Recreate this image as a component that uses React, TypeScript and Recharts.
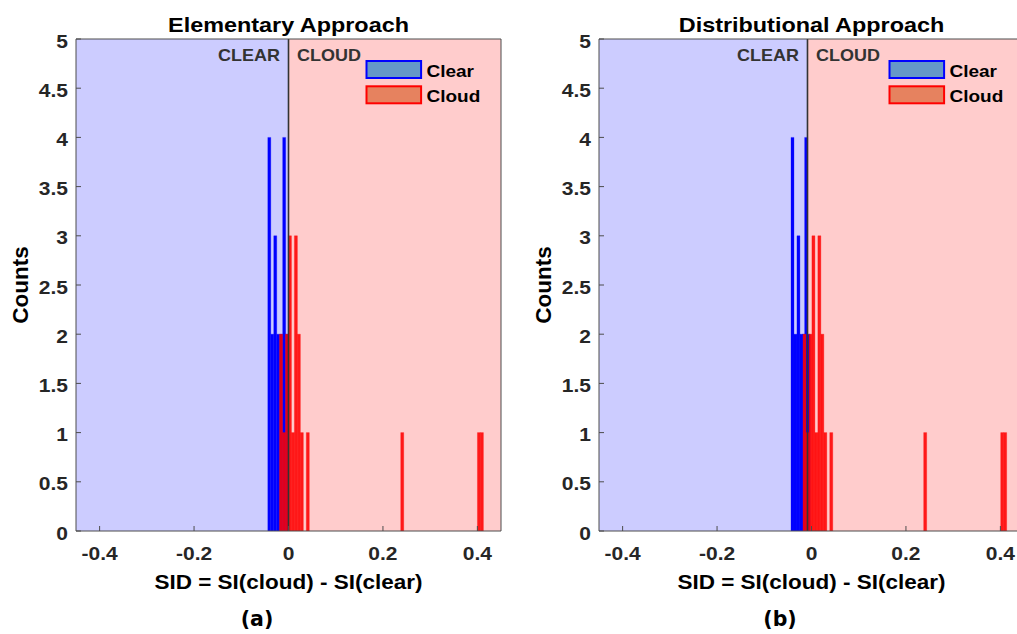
import React from 'react';
import { ComposedChart, XAxis, YAxis, ReferenceArea, ReferenceLine } from 'recharts';

// ---------- data ----------
const X_TICKS = [-0.4, -0.2, 0, 0.2, 0.4];
const X_TICK_LABELS = ['-0.4', '-0.2', '0', '0.2', '0.4'];
const Y_TICKS = [0, 0.5, 1, 1.5, 2, 2.5, 3, 3.5, 4, 4.5, 5];
const Y_TICK_LABELS = ['0', '0.5', '1', '1.5', '2', '2.5', '3', '3.5', '4', '4.5', '5'];
const X_DOMAIN = [-0.45, 0.45];
const Y_DOMAIN = [0, 5];
const BIN_WIDTH = 0.0063;

const SERIES_NAMES = ['Clear', 'Cloud'];
const REGION_LABELS = ['CLEAR', 'CLOUD'];
const TITLES = ['Elementary Approach', 'Distributional Approach'];
const CAPTIONS = ['(a)', '(b)'];
const X_LABEL = 'SID = SI(cloud) - SI(clear)';
const Y_LABEL = 'Counts';
const DIVIDERS = [0, -0.0085];

// Panel (a) – Elementary approach
const clearA_left = [-0.0438, -0.0375, -0.0312, -0.0249, -0.0186, -0.0123, -0.006];
const clearA_counts = [4, 2, 3, 2, 2, 4, 2];
const cloudA_left = [-0.019, -0.0127, -0.0064, -0.0001, 0.0062, 0.0125, 0.0188, 0.0251, 0.0377, 0.2377, 0.4001, 0.4064];
const cloudA_counts = [2, 1, 2, 3, 1, 3, 2, 1, 1, 1, 1, 1];

// Panel (b) – Distributional approach
const clearB_left = [-0.0434, -0.0371, -0.0308, -0.0245, -0.0195, -0.0145, -0.009];
const clearB_counts = [4, 2, 3, 2, 2, 4, 2];
const cloudB_left = [-0.018, -0.0117, -0.0054, 0.0009, 0.0072, 0.0135, 0.0198, 0.0261, 0.0387, 0.2376, 0.4007, 0.407];
const cloudB_counts = [2, 1, 2, 3, 1, 3, 2, 1, 1, 1, 1, 1];

// ---------- styles ----------
const SANS = '"Liberation Sans", Arial, Helvetica, sans-serif';
const CAP_FONT = '"DejaVu Sans", sans-serif';
const AX = '#4d4d4d';
const TXT = '#262626';
const SY = 0.9;
const CLEAR_BG = '#ccccff';
const CLOUD_BG = '#ffcccc';
const CLEAR_FILL = '#0000ff';
const CLOUD_FILL = '#ff0000';
const LEG_FILLS = ['#6598c8', '#e6825f'];
const LEG_EDGES = ['#0000ff', '#ff0000'];

const ST = ({ x, y, fs, anchor = 'middle', fill = TXT, family = SANS, rot = false, sy = SY, children }: any) => (
  <text
    transform={`translate(${x},${y})${rot ? ' rotate(-90)' : ''} scale(1,${sy})`}
    x={0}
    y={0}
    textAnchor={anchor}
    style={{ fontSize: fs, fontWeight: 'bold', fontFamily: family }}
    fill={fill}
  >
    {children}
  </text>
);

const BottomTick = (props: any) => {
  const { x, y, payload } = props;
  const i = X_TICKS.findIndex((t) => Math.abs(t - payload.value) < 1e-9);
  return (
    <g>
      <line x1={x} y1={y} x2={x} y2={y - 5} stroke={AX} strokeWidth={1} />
      <ST x={x} y={y + 29} fs={21}>{X_TICK_LABELS[i]}</ST>
    </g>
  );
};

const LeftTick = (props: any) => {
  const { x, y, payload } = props;
  const i = Y_TICKS.findIndex((t) => Math.abs(t - payload.value) < 1e-9);
  return (
    <g>
      <line x1={x} y1={y} x2={x + 5} y2={y} stroke={AX} strokeWidth={1} />
      <ST x={x - 8} y={y + 8.5} fs={21} anchor="end">{Y_TICK_LABELS[i]}</ST>
    </g>
  );
};

const toBins = (lefts: number[], counts: number[]) =>
  lefts.map((l, i) => ({ x1: l, x2: l + BIN_WIDTH, y: counts[i] }));

type PanelProps = {
  idx: number;
  clearLeft: number[];
  clearCounts: number[];
  cloudLeft: number[];
  cloudCounts: number[];
};

const Panel = ({ idx, clearLeft, clearCounts, cloudLeft, cloudCounts }: PanelProps) => {
  const divider = DIVIDERS[idx];
  const clearBins = toBins(clearLeft, clearCounts);
  const cloudBins = toBins(cloudLeft, cloudCounts);
  const rows = [...clearBins, ...cloudBins].map((b) => ({ x: (b.x1 + b.x2) / 2, y: b.y }));

  const clearLabel = (p: any) => {
    const vb = p.viewBox;
    return <ST x={vb.x + vb.width - 8.5} y={vb.y + 22} fs={18} anchor="end" fill="#333">{REGION_LABELS[0]}</ST>;
  };
  const cloudLabel = (p: any) => {
    const vb = p.viewBox;
    const px = vb.x + vb.width - 135.5;
    return (
      <g>
        <ST x={vb.x + 8.5} y={vb.y + 22} fs={18} anchor="start" fill="#333">{REGION_LABELS[1]}</ST>
        {SERIES_NAMES.map((name, i) => (
          <g key={name}>
            <rect x={px + 1} y={vb.y + 22 + i * 25.3} width={54.6} height={17} fill={LEG_FILLS[i]} stroke={LEG_EDGES[i]} strokeWidth={2} />
            <ST x={px + 61} y={vb.y + 38 + i * 25.3} fs={19} anchor="start" fill="#000">{name}</ST>
          </g>
        ))}
      </g>
    );
  };
  const xLabel = (p: any) => {
    const vb = p.viewBox;
    const cx = vb.x + vb.width / 2;
    return (
      <g>
        <ST x={cx} y={vb.y + 58} fs={22.5} fill="#000">{X_LABEL}</ST>
        <ST x={cx - 31.5} y={vb.y + 95} fs={20.5} fill="#000" family={CAP_FONT} sy={1}>{CAPTIONS[idx]}</ST>
      </g>
    );
  };
  const yLabel = (p: any) => {
    const vb = p.viewBox;
    return <ST x={vb.x + 28.3} y={vb.y + vb.height / 2} fs={22.5} rot sy={1} fill="#000">{Y_LABEL}</ST>;
  };
  const titleLabel = (p: any) => {
    const vb = p.viewBox;
    return <ST x={vb.x + vb.width / 2} y={vb.y - 7} fs={23.4} fill="#000">{TITLES[idx]}</ST>;
  };

  return (
    <ComposedChart width={520} height={634} data={rows} margin={{ top: 39, right: 19, bottom: 0, left: 0 }}>
      <XAxis
        dataKey="x"
        type="number"
        domain={X_DOMAIN}
        ticks={X_TICKS}
        interval={0}
        allowDataOverflow
        height={103}
        tickLine={false}
        tickSize={0}
        tickMargin={0}
        tick={BottomTick}
        axisLine={{ stroke: AX, strokeWidth: 1 }}
        label={xLabel}
      />
      <XAxis
        xAxisId="top"
        dataKey="x"
        orientation="top"
        mirror
        type="number"
        domain={X_DOMAIN}
        ticks={X_TICKS}
        interval={0}
        allowDataOverflow
        height={1}
        tick={false}
        tickSize={5}
        tickLine={{ stroke: AX }}
        axisLine={{ stroke: AX, strokeWidth: 1 }}
        label={titleLabel}
      />
      <YAxis
        dataKey="y"
        type="number"
        domain={Y_DOMAIN}
        ticks={Y_TICKS}
        interval={0}
        allowDataOverflow
        width={76}
        tickLine={false}
        tickSize={0}
        tickMargin={0}
        tick={LeftTick}
        axisLine={{ stroke: AX, strokeWidth: 1 }}
        label={yLabel}
      />
      <YAxis
        yAxisId="right"
        dataKey="y"
        orientation="right"
        mirror
        type="number"
        domain={Y_DOMAIN}
        ticks={Y_TICKS}
        interval={0}
        allowDataOverflow
        width={1}
        tick={false}
        tickSize={5}
        tickLine={{ stroke: AX }}
        axisLine={{ stroke: AX, strokeWidth: 1 }}
      />
      <ReferenceArea x1={X_DOMAIN[0]} x2={divider} y1={Y_DOMAIN[0]} y2={Y_DOMAIN[1]} fill={CLEAR_BG} fillOpacity={1} stroke="none" label={clearLabel} ifOverflow="hidden" />
      <ReferenceArea x1={divider} x2={X_DOMAIN[1]} y1={Y_DOMAIN[0]} y2={Y_DOMAIN[1]} fill={CLOUD_BG} fillOpacity={1} stroke="none" label={cloudLabel} ifOverflow="hidden" />
      {clearBins.map((b, i) => (
        <ReferenceArea
          key={`c${i}`}
          x1={b.x1}
          x2={b.x2}
          y1={0}
          y2={b.y}
          fill={CLEAR_FILL}
          fillOpacity={1}
          stroke={CLEAR_FILL}
          strokeOpacity={0.6}
          strokeWidth={0.5}
          ifOverflow="hidden"
        />
      ))}
      {cloudBins.map((b, i) => (
        <ReferenceArea
          key={`r${i}`}
          x1={b.x1}
          x2={b.x2}
          y1={0}
          y2={b.y}
          fill={CLOUD_FILL}
          fillOpacity={0.88}
          stroke={CLOUD_FILL}
          strokeOpacity={0.6}
          strokeWidth={0.5}
          ifOverflow="hidden"
        />
      ))}
      <ReferenceLine x={divider} stroke="#333333" strokeWidth={1.6} ifOverflow="hidden" />
    </ComposedChart>
  );
};

export default function App() {
  return (
    <div
      style={{
        position: 'relative',
        width: 1017,
        height: 634,
        overflow: 'hidden',
        background: '#ffffff',
      }}
    >
      <style>{'html, body { margin: 0; padding: 0; overflow: hidden; }'}</style>
      <div style={{ position: 'absolute', left: 0, top: 0 }}>
        <Panel idx={0} clearLeft={clearA_left} clearCounts={clearA_counts} cloudLeft={cloudA_left} cloudCounts={cloudA_counts} />
      </div>
      <div style={{ position: 'absolute', left: 523.3, top: 0 }}>
        <Panel idx={1} clearLeft={clearB_left} clearCounts={clearB_counts} cloudLeft={cloudB_left} cloudCounts={cloudB_counts} />
      </div>
    </div>
  );
}
